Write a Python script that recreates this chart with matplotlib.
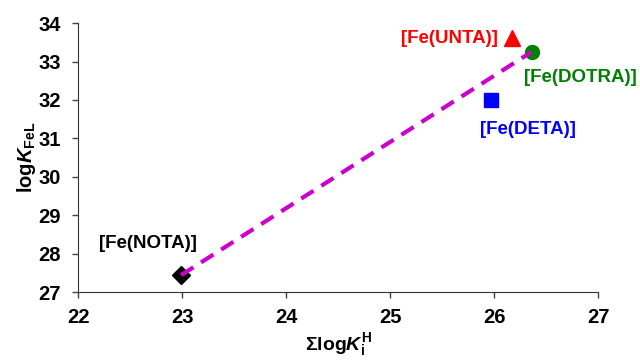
import matplotlib
matplotlib.use('Agg')
import matplotlib.pyplot as plt

# complexes: sum of protonation constants vs stability constant
names = ['[Fe(NOTA)]', '[Fe(DETA)]', '[Fe(UNTA)]', '[Fe(DOTRA)]']
sum_logKH = [22.99, 25.97, 26.17, 26.36]
logK_FeL = [27.44, 32.0, 33.62, 33.25]
colors = ['black', '#0000FF', '#FF0000', '#008000']
markers = ['D', 's', '^', 'o']
sizes = [9, 10, 11, 10]

# label anchor points (data coords)
label_xy = [(22.67, 28.26), (26.33, 31.24), (26.04, 33.59), (26.83, 32.59)]

plt.rcParams['font.family'] = 'Liberation Sans'
plt.rcParams['font.weight'] = 'bold'
plt.rcParams['axes.labelweight'] = 'bold'
plt.rcParams['mathtext.fontset'] = 'custom'
plt.rcParams['mathtext.rm'] = 'Liberation Sans:bold'
plt.rcParams['mathtext.it'] = 'Liberation Sans:bold:italic'
plt.rcParams['mathtext.bf'] = 'Liberation Sans:bold'

fig = plt.figure(figsize=(6.4, 3.61), dpi=100)
ax = fig.add_axes([0.122, 0.191, 0.8125, 0.745])

# trend line through NOTA and DOTRA
ax.plot([sum_logKH[0], sum_logKH[3]], [logK_FeL[0], logK_FeL[3]],
        ls=(0, (3.5, 2.2)), color='#CC00CC', lw=3, zorder=3)

for x, y, c, m, s in zip(sum_logKH, logK_FeL, colors, markers, sizes):
    ax.plot(x, y, marker=m, color=c, ms=s, ls='none', zorder=2)

for (tx, ty), n, c in zip(label_xy, names, colors):
    ax.text(tx, ty, n, color=c, fontsize=13.5, fontweight='bold',
            ha='center' if n != '[Fe(UNTA)]' else 'right', va='center')

ax.set_xlim(22, 27)
ax.set_ylim(27, 34)
ax.set_xticks(range(22, 28))
ax.set_yticks(range(27, 35))
ax.tick_params(labelsize=14.5, length=4.5, width=1, color='#444444')
ax.tick_params(axis='y', pad=8)
ax.tick_params(axis='x', pad=7)
for lab in ax.get_xticklabels() + ax.get_yticklabels():
    lab.set_fontweight('bold')
for sp in ['top', 'right']:
    ax.spines[sp].set_visible(False)
for sp in ['left', 'bottom']:
    ax.spines[sp].set_color('#333333')

ax.set_xlabel(r'$\Sigma$log$K_{\mathrm{i}}^{\mathrm{H}}$', fontsize=14, fontweight='bold', labelpad=3)
ax.set_ylabel(r'log$K_{\mathrm{FeL}}$', fontsize=14.5, fontweight='bold', labelpad=0)

fig.savefig('out.png', dpi=100)
